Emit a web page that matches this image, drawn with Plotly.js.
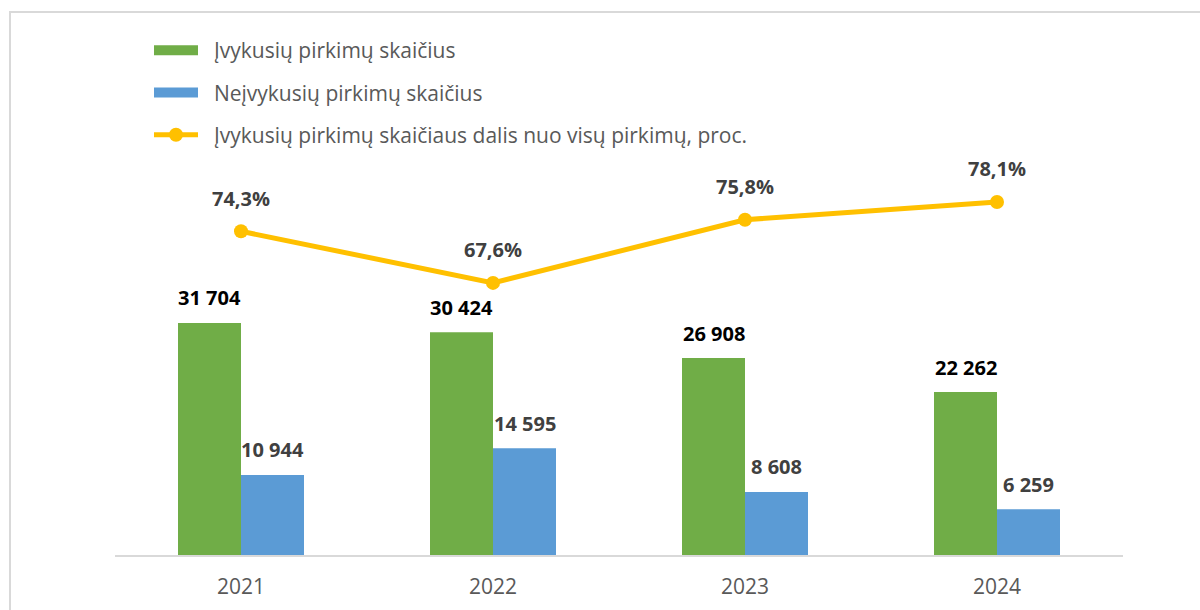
<!DOCTYPE html>
<html>
<head>
<meta charset="utf-8">
<script src="https://cdn.plot.ly/plotly-3.0.1.min.js"></script>
<style>
  html, body { margin: 0; padding: 0; background: #ffffff; }
  #wrap { position: relative; width: 1200px; height: 610px; overflow: hidden; }
  #frame { position: absolute; left: 9px; top: 11px; width: 1200px; height: 620px; border: 2px solid #D9D9D9; box-sizing: border-box; }
  #chart { position: absolute; left: 0; top: 0; width: 1200px; height: 610px; }
</style>
</head>
<body>
<div id="wrap"><div id="frame"></div><div id="chart"></div></div>
<script>
const years = ['2021', '2022', '2023', '2024'];
const completed = [31704, 30424, 26908, 22262];
const notCompleted = [10944, 14595, 8608, 6259];
const sharePct = [74.3, 67.6, 75.8, 78.1];

const nameCompleted = 'Įvykusių pirkimų skaičius';
const nameNotCompleted = 'Neįvykusių pirkimų skaičius';
const nameShare = 'Įvykusių pirkimų skaičiaus dalis nuo visų pirkimų, proc.';

const GREEN = '#70AD47', BLUE = '#5B9BD5', GOLD = '#FFC000';
const FONT = 'Open Sans, Noto Sans, DejaVu Sans, sans-serif';
const PAD = '\u00A0\u00A0';

function fmtInt(v) { return String(Math.round(v)).replace(/\B(?=(\d{3})+(?!\d))/g, ' '); }
function fmtPct(v) { return v.toFixed(1).replace('.', ',') + '%'; }

const traces = [
  { type: 'bar', x: years, y: completed, name: nameCompleted, marker: { color: GREEN }, showlegend: false, hoverinfo: 'skip' },
  { type: 'bar', x: years, y: notCompleted, name: nameNotCompleted, marker: { color: BLUE }, showlegend: false, hoverinfo: 'skip' },
  { type: 'scatter', mode: 'lines+markers', x: years, y: sharePct, yaxis: 'y2', name: nameShare,
    line: { color: GOLD, width: 5 }, marker: { color: GOLD, size: 14 }, showlegend: false, hoverinfo: 'skip' },
  // legend entries
  { type: 'scatter', mode: 'lines', x: [null], y: [null], name: PAD + nameCompleted, line: { color: GREEN, width: 14 }, legendgroup: 'a', hoverinfo: 'skip' },
  { type: 'scatter', mode: 'lines', x: [null], y: [null], name: PAD + nameNotCompleted, line: { color: BLUE, width: 14 }, legendgroup: 'b', hoverinfo: 'skip' },
  { type: 'scatter', mode: 'lines+markers', x: [null], y: [null], name: PAD + nameShare, line: { color: GOLD, width: 5 }, marker: { color: GOLD, size: 14 }, legendgroup: 'c', hoverinfo: 'skip' }
];

const annotations = [];
years.forEach((yr, i) => {
  annotations.push({ x: i, y: completed[i], xref: 'x', yref: 'y', text: '<b>' + fmtInt(completed[i]) + '</b>', showarrow: false,
    xshift: -31.5, yshift: 25, yanchor: 'middle', font: { family: FONT, size: 20, color: '#000000' } });
  annotations.push({ x: i, y: notCompleted[i], xref: 'x', yref: 'y', text: '<b>' + fmtInt(notCompleted[i]) + '</b>', showarrow: false,
    xshift: 31.5, yshift: 25, yanchor: 'middle', font: { family: FONT, size: 20, color: '#404040' } });
  annotations.push({ x: i, y: sharePct[i], xref: 'x', yref: 'y2', text: '<b>' + fmtPct(sharePct[i]) + '</b>', showarrow: false,
    yshift: 33, yanchor: 'middle', font: { family: FONT, size: 20, color: '#404040' } });
});

const plotL = 115, plotR = 1123;
const layout = {
  width: 1200, height: 610,
  margin: { l: 115, r: 77, t: 175, b: 55, pad: 0 },
  paper_bgcolor: 'rgba(0,0,0,0)', plot_bgcolor: 'rgba(0,0,0,0)',
  font: { family: FONT, color: '#595959' },
  barmode: 'group', bargap: 0.5, bargroupgap: 0,
  xaxis: { type: 'category', range: [-0.5, 3.5], showline: true, linecolor: '#D9D9D9', linewidth: 1.5,
    ticks: '', tickfont: { family: FONT, size: 21, color: '#595959' }, ticklabelstandoff: 12, showgrid: false, zeroline: false, fixedrange: true, automargin: false },
  yaxis: { range: [0, 51913], visible: false, showgrid: false, zeroline: false, fixedrange: true, automargin: false },
  yaxis2: { range: [32.3, 81.6], overlaying: 'y', side: 'right', visible: false, showgrid: false, zeroline: false, fixedrange: true, automargin: false },
  showlegend: true,
  legend: { orientation: 'v', x: (149 - plotL) / (plotR - plotL), y: 1 + (175 - 30) / 380, xanchor: 'left', yanchor: 'top',
    font: { family: FONT, size: 21, color: '#595959' }, itemwidth: 44, tracegroupgap: 12, bgcolor: 'rgba(0,0,0,0)', traceorder: 'grouped' },
  annotations: annotations
};

Plotly.newPlot('chart', traces, layout, { displayModeBar: false, staticPlot: true });
</script>
</body>
</html>
